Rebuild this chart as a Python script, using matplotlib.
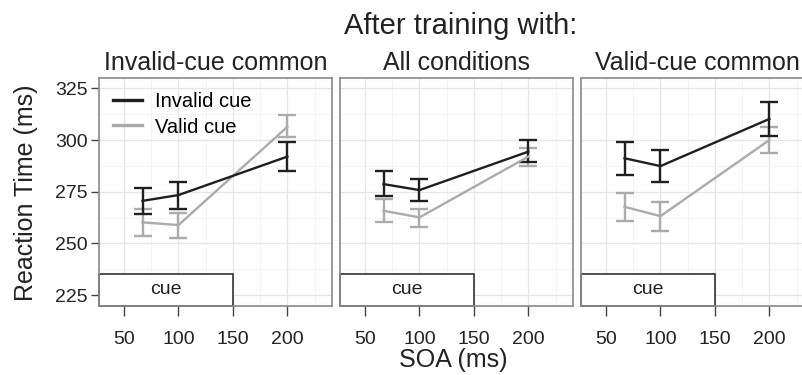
import matplotlib
matplotlib.use("Agg")
import matplotlib.pyplot as plt
from matplotlib.patches import Rectangle
from matplotlib.lines import Line2D
from matplotlib.ticker import MultipleLocator

plt.rcParams['font.family'] = ['Liberation Sans', 'DejaVu Sans']

# ---- data ----
soa = [67, 100, 200]
panels = ["Invalid-cue common", "All conditions", "Valid-cue common"]
series = ["Invalid cue", "Valid cue"]

inv_mean = [[270.6, 273.4, 292.0], [278.7, 275.8, 294.4], [291.2, 287.4, 310.2]]
inv_hi   = [[277.0, 279.5, 299.2], [285.2, 281.1, 300.0], [299.2, 295.2, 318.6]]
inv_lo   = [[264.2, 266.5, 285.0], [272.9, 270.5, 289.2], [283.1, 279.8, 302.1]]

val_mean = [[260.2, 258.9, 306.4], [265.8, 262.6, 292.0], [267.7, 263.2, 300.0]]
val_hi   = [[266.6, 264.8, 312.0], [271.3, 266.5, 296.0], [274.5, 269.9, 306.2]]
val_lo   = [[253.4, 252.6, 301.6], [260.4, 257.8, 287.6], [260.8, 256.0, 293.6]]

x_ticks = [50, 100, 150, 200]
y_ticks = [225, 250, 275, 300, 325]
cue_end = 150
cue_top = 235
cue_label = "cue"

main_title = "After training with:"
xlabel = "SOA (ms)"
ylabel = "Reaction Time (ms)"

# ---- style ----
c_inv = "#1f1f1f"
c_val = "#ababab"
txt = "#222222"
W, H = 803, 375
fig = plt.figure(figsize=(W / 100, H / 100), dpi=100)

lefts = [99, 340, 581]
pw, ptop, pbot = 233, 78, 305.5
xlim = (27, 241)
ylim = (220, 330)

for i, name in enumerate(panels):
    ax = fig.add_axes([lefts[i] / W, 1 - pbot / H, pw / W, (pbot - ptop) / H])
    ax.set_xlim(*xlim)
    ax.set_ylim(*ylim)
    ax.set_xticks(x_ticks)
    ax.set_yticks(y_ticks)
    ax.xaxis.set_minor_locator(MultipleLocator(25))
    ax.yaxis.set_minor_locator(MultipleLocator(12.5))
    ax.grid(True, which="major", color="#e6e6e6", lw=0.9, zorder=0)
    ax.grid(True, which="minor", color="#f2f2f2", lw=0.6, zorder=0)
    ax.set_axisbelow(True)
    for s in ax.spines.values():
        s.set_color("#8a8a8a")
        s.set_linewidth(1.2)
    ax.tick_params(axis="both", which="minor", length=0)
    ax.tick_params(axis="x", which="major", length=7, width=1, color="#444444",
                   labelsize=14, pad=11, labelcolor=txt)
    if i == 0:
        ax.tick_params(axis="y", which="major", length=6, width=1, color="#444444",
                       labelsize=14, pad=2, labelcolor=txt)
    else:
        ax.tick_params(axis="y", which="major", length=0, labelleft=False)

    # cue box
    rect = Rectangle((xlim[0], ylim[0]), cue_end - xlim[0], cue_top - ylim[0],
                     facecolor="white", edgecolor="#222222", lw=1.1, zorder=2,
                     clip_on=False)
    ax.add_patch(rect)
    ax.text((xlim[0] + cue_end) / 2, (ylim[0] + cue_top) / 2, cue_label,
            ha="center", va="center", fontsize=14, color=txt, zorder=3)

    for mean, hi, lo, col, lab in [
        (val_mean[i], val_hi[i], val_lo[i], c_val, series[1]),
        (inv_mean[i], inv_hi[i], inv_lo[i], c_inv, series[0]),
    ]:
        yerr = [[m - l for m, l in zip(mean, lo)], [h - m for m, h in zip(mean, hi)]]
        ax.errorbar(soa, mean, yerr=yerr, color=col, lw=1.7, elinewidth=1.7,
                    capsize=6.5, capthick=1.7, zorder=4, label=lab)

    ax.set_title(name, fontsize=18, pad=6, color=txt)

    if i == 0:
        hs = [Line2D([], [], color=c_inv, lw=2.4), Line2D([], [], color=c_val, lw=2.4)]
        ax.legend(hs, series, loc="upper left", frameon=False, fontsize=14.5,
                  handlelength=1.45, handletextpad=0.65, labelspacing=0.32,
                  borderaxespad=0.2, borderpad=0.5, bbox_to_anchor=(0.0, 1.0))

fig.text(461 / W, 1 - 33.5 / H, main_title, ha="center", va="baseline",
         fontsize=21, color=txt)
fig.text(453 / W, 1 - 367 / H, xlabel, ha="center", va="baseline", fontsize=18,
         color=txt)
fig.text(26 / W, 1 - 193 / H, ylabel, ha="center", va="center", fontsize=18,
         rotation=90, color=txt)

fig.savefig("out.png", dpi=100)
